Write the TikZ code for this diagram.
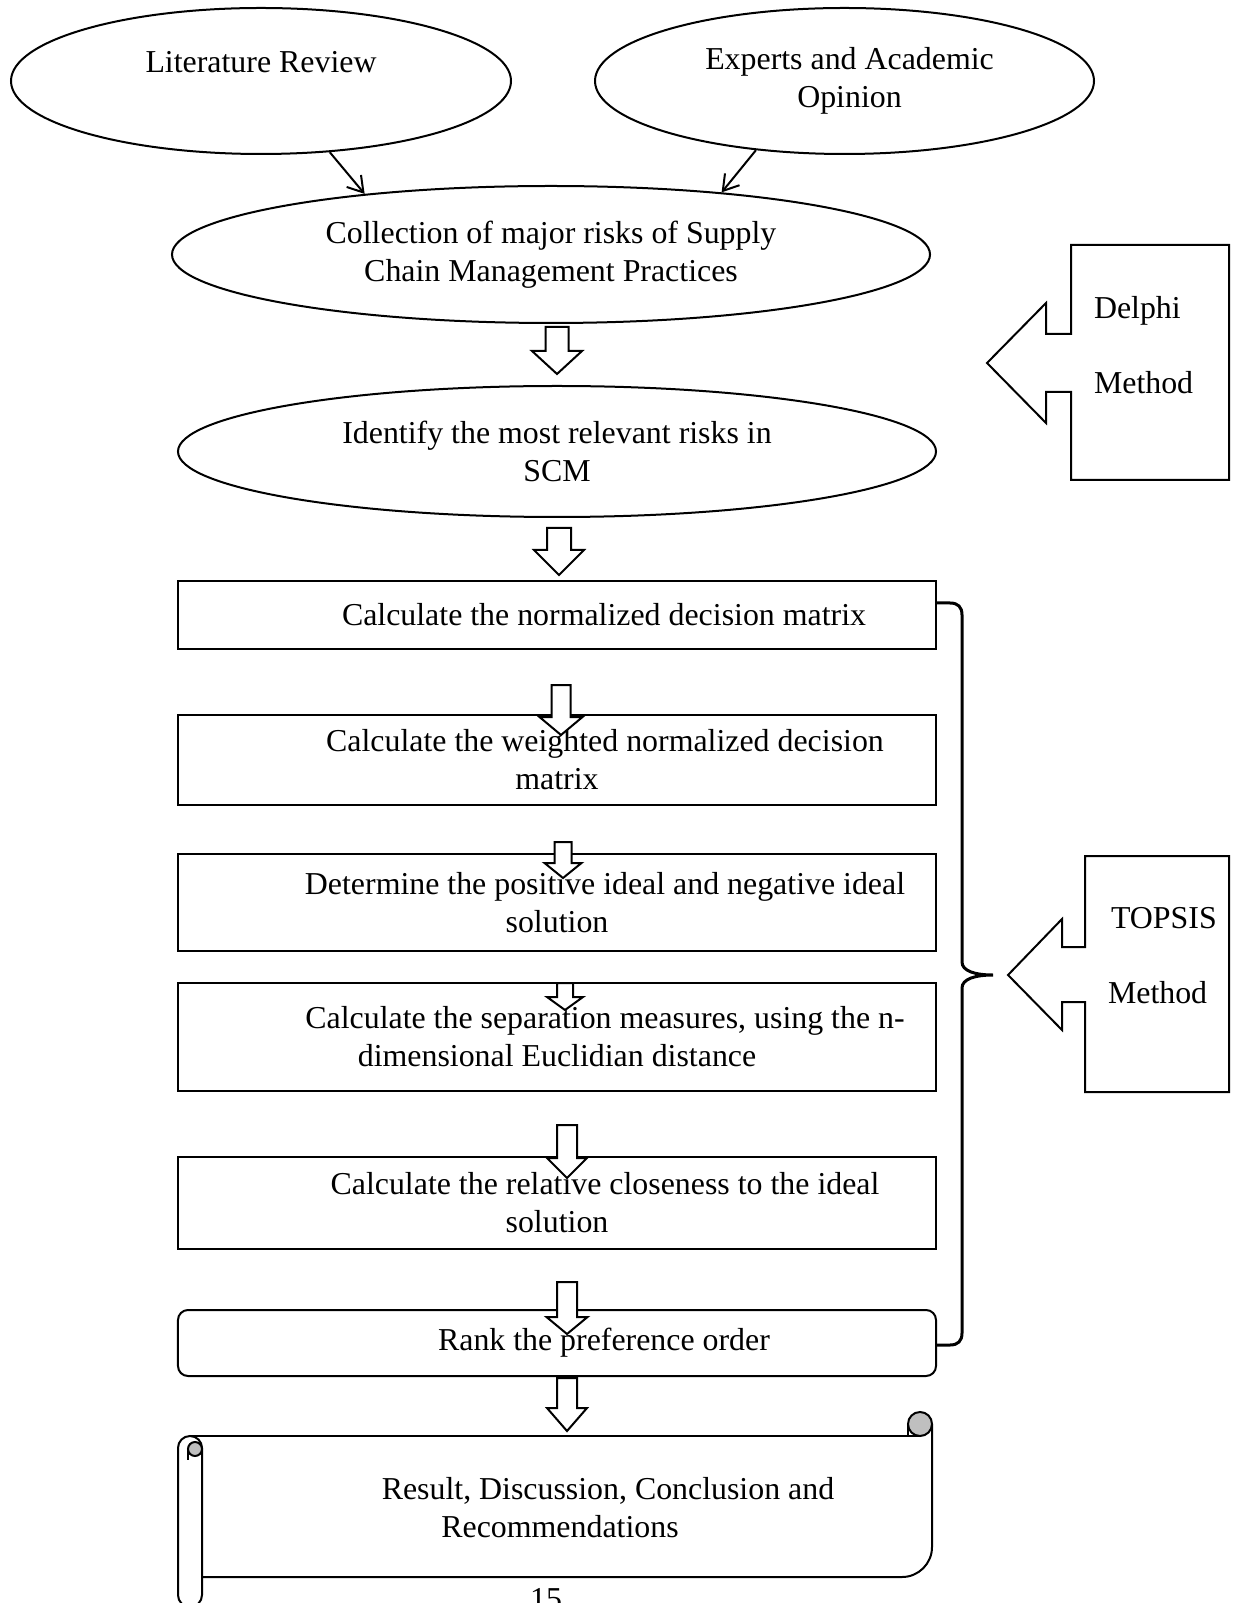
\documentclass[tikz,border=0pt]{standalone}
\usepackage{fontspec}
\setmainfont{Liberation Serif}
\usetikzlibrary{shapes.geometric,arrows.meta}
\colorlet{scrollgray}{black!25}
\tikzset{oval/.style={ellipse, draw, inner sep=0pt, align=center},
  procbox/.style={rectangle, draw, inner sep=0pt, align=center, minimum width=303.2pt},
  barb/.style={-{Straight Barb[length=6pt,width=7.5pt]}},
  hollow/.style={draw, fill=white},
  callout/.style={draw, fill=white},
  tag/.style={anchor=base west, inner sep=0pt},
  bracket/.style={line width=1.2pt}}

\begin{document}
\begin{tikzpicture}[thick, x=0.4pt, y=-0.4pt, font=\fontsize{12.75}{15.2}\selectfont]
    \useasboundingbox (0,0) rectangle (1237,1603);
    \node[oval, minimum width=200pt, minimum height=58.4pt] (lit) at (261,81) {Literature Review\\\mbox{}};
    \node[oval, minimum width=199.6pt, minimum height=58.4pt] (exp) at (844.5,81) {\hspace*{4pt}Experts and Academic\\\hspace*{4pt}Opinion};
    \node[oval, minimum width=303.2pt, minimum height=54.8pt] (coll) at (551,254.5) {Collection of major risks of Supply\\Chain Management Practices};
    \node[oval, minimum width=303.2pt, minimum height=52.4pt] (iden) at (557,451.5) {Identify the most relevant risks in\\SCM};
    \draw[barb] (lit.-46) to (coll.162);
    \draw[barb] (exp.218) to (coll.20);
    \node[procbox, minimum height=27.2pt] (norm) at (557,615) {\hspace*{37.6pt}Calculate the normalized decision matrix};
    \node[procbox, minimum height=36pt] (weight) at (557,760) {\hspace*{38.4pt}Calculate the weighted normalized decision\\matrix};
    \node[procbox, minimum height=38.8pt] (ideal) at (557,902.5) {\hspace*{38.4pt}Determine the positive ideal and negative ideal\\solution};
    \node[procbox, minimum height=43.2pt] (sep) at (557,1037) {\hspace*{38.4pt}Calculate the separation measures, using the n-\\dimensional Euclidian distance};
    \node[procbox, minimum height=36.8pt] (close) at (557,1203) {\hspace*{38.4pt}Calculate the relative closeness to the ideal\\solution};
    \node[procbox, rounded corners=4pt, minimum height=26.4pt] (rank) at (557,1343) {\hspace*{37.6pt}Rank the preference order};
    \foreach \x/\t/\n/\p/\s/\h in {557/327/351/374/11.5/25, 559/528/550/575/12/25, 561/685/717/735/9.5/21.5,
        563/842/863/878/8.5/18.5, 565/983/997/1010/8/18, 567/1125/1158/1178/10/20,
        567/1282/1317/1334/10/20.5, 567/1378/1408/1431/10/20}
      \draw[hollow] (\x-\s,\t) -- (\x+\s,\t) -- (\x+\s,\n) -- (\x+\h,\n) -- (\x,\p) -- (\x-\h,\n) -- (\x-\s,\n) -- cycle;
    \draw[bracket] (936,603) -- (950,603) .. controls (958,603) and (962,607) .. (962,615) -- (962,962)
      .. controls (962,971) and (975,975) .. (993,975) .. controls (975,975) and (962,979) .. (962,988)
      -- (962,1333) .. controls (962,1341) and (958,1345) .. (950,1345) -- (936,1345);
    \draw[callout] (1071,245) -- (1229,245) -- (1229,480) -- (1071,480) -- (1071,392) -- (1046,392) -- (1046,423)
      -- (987,363) -- (1046,303) -- (1046,334) -- (1071,334) -- cycle;
    \node[tag] (delphi) at (1093,319) {Delphi};
    \node[tag] (delphimethod) at (1093,394) {Method};
    \draw[callout] (1085,856) -- (1229,856) -- (1229,1092) -- (1085,1092) -- (1085,1002) -- (1062,1002) -- (1062,1030)
      -- (1008,975) -- (1062,919) -- (1062,947) -- (1085,947) -- cycle;
    \node[tag] (topsis) at (1110,928) {TOPSIS};
    \node[tag] (topsismethod) at (1107,1003) {Method};
    \draw (190,1436) -- (920,1436);
    \draw[rounded corners=12] (932,1424) -- (932,1577) -- (202,1577);
    \draw[fill=scrollgray] (920,1424) circle (12);
    \draw (908,1424) -- (908,1436);
    \draw[fill=white] (202,1595) -- (202,1448) arc (0:-180:12) -- (178,1595) arc (180:0:12) -- cycle;
    \draw[fill=scrollgray] (195,1449) circle (7);
    \draw (188,1449) -- (188,1460);
    \node[align=center, inner sep=0pt] (result) at (560,1508) {\hspace*{38.4pt}Result, Discussion, Conclusion and\\Recommendations};
    \node[anchor=base, inner sep=0pt] (pagenum) at (546,1609) {15};
  \end{tikzpicture}
\end{document}
